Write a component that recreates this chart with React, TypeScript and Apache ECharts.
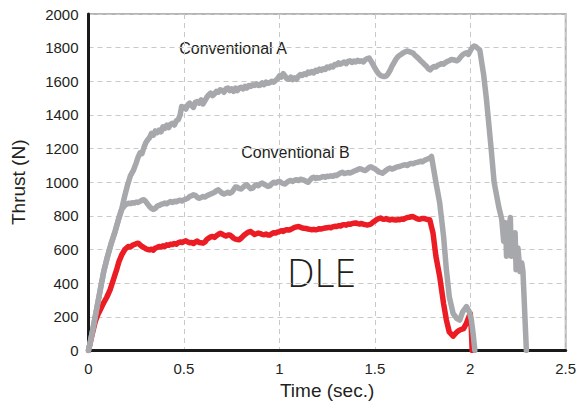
import React, { useEffect, useRef } from "react";
import * as echarts from "echarts";

const xTicks = [0, 0.5, 1, 1.5, 2, 2.5];
const yTicks = [0, 200, 400, 600, 800, 1000, 1200, 1400, 1600, 1800, 2000];

const conventionalA: [number, number][] = [
  [0, 0], [0.02, 110], [0.04, 230], [0.06, 350], [0.08, 470], [0.1, 560], [0.12, 640], [0.14, 710],
  [0.16, 790], [0.174, 840], [0.19, 920], [0.205, 985], [0.22, 1040], [0.235, 1070], [0.25, 1115],
  [0.26, 1150], [0.27, 1175], [0.28, 1170], [0.29, 1205], [0.3, 1235], [0.31, 1252], [0.32, 1265],
  [0.33, 1290], [0.34, 1280], [0.35, 1305], [0.36, 1295], [0.37, 1310], [0.38, 1300], [0.39, 1330],
  [0.4, 1320], [0.41, 1340], [0.42, 1325], [0.43, 1345], [0.44, 1350], [0.45, 1340], [0.46, 1365],
  [0.47, 1372], [0.48, 1400], [0.488, 1450], [0.5, 1445], [0.51, 1435], [0.52, 1460], [0.53, 1470],
  [0.54, 1455], [0.55, 1445], [0.56, 1475], [0.57, 1480], [0.58, 1470], [0.59, 1490], [0.6, 1465],
  [0.61, 1485], [0.62, 1505], [0.63, 1520], [0.64, 1530], [0.65, 1515], [0.66, 1525], [0.67, 1540],
  [0.68, 1535], [0.69, 1550], [0.7, 1545], [0.71, 1535], [0.72, 1555], [0.73, 1560], [0.74, 1545],
  [0.75, 1555], [0.76, 1540], [0.77, 1560], [0.78, 1545], [0.79, 1560], [0.8, 1565], [0.81, 1555],
  [0.82, 1570], [0.83, 1560], [0.84, 1575], [0.85, 1570], [0.86, 1580], [0.87, 1575], [0.88, 1585],
  [0.89, 1575], [0.9, 1578], [0.91, 1590], [0.92, 1580], [0.93, 1595], [0.94, 1588], [0.95, 1592],
  [0.96, 1600], [0.97, 1595], [0.98, 1605], [0.99, 1615], [1.0, 1632], [1.01, 1625], [1.02, 1645],
  [1.03, 1630], [1.04, 1615], [1.05, 1612], [1.06, 1625], [1.07, 1610], [1.08, 1620], [1.09, 1612],
  [1.1, 1630], [1.11, 1640], [1.12, 1635], [1.13, 1645], [1.14, 1640], [1.15, 1655], [1.16, 1650],
  [1.17, 1658], [1.18, 1650], [1.19, 1665], [1.2, 1660], [1.21, 1672], [1.22, 1665], [1.23, 1675],
  [1.24, 1670], [1.25, 1685], [1.26, 1680], [1.27, 1690], [1.28, 1685], [1.29, 1700], [1.3, 1698],
  [1.31, 1710], [1.32, 1702], [1.33, 1708], [1.34, 1715], [1.35, 1705], [1.36, 1718], [1.37, 1722],
  [1.38, 1712], [1.39, 1720], [1.4, 1715], [1.41, 1725], [1.42, 1718], [1.43, 1722], [1.44, 1715],
  [1.45, 1728], [1.46, 1735], [1.47, 1738], [1.48, 1720], [1.49, 1700], [1.5, 1680], [1.51, 1660],
  [1.52, 1645], [1.53, 1635], [1.54, 1630], [1.55, 1628], [1.56, 1632], [1.57, 1645], [1.58, 1665],
  [1.59, 1690], [1.6, 1710], [1.61, 1730], [1.62, 1745], [1.63, 1755], [1.64, 1762], [1.65, 1770],
  [1.66, 1775], [1.67, 1780], [1.68, 1776], [1.69, 1772], [1.7, 1768], [1.71, 1755], [1.72, 1745],
  [1.73, 1735], [1.74, 1722], [1.75, 1712], [1.76, 1700], [1.77, 1690], [1.78, 1675], [1.79, 1668],
  [1.8, 1680], [1.81, 1688], [1.82, 1685], [1.83, 1695], [1.84, 1700], [1.85, 1705], [1.86, 1702],
  [1.87, 1712], [1.88, 1718], [1.89, 1722], [1.9, 1730], [1.91, 1728], [1.92, 1725], [1.93, 1722],
  [1.94, 1730], [1.95, 1745], [1.96, 1758], [1.97, 1765], [1.98, 1770], [1.99, 1760], [2.0, 1782],
  [2.01, 1800], [2.02, 1810], [2.03, 1805], [2.04, 1795], [2.05, 1785], [2.07, 1640], [2.085, 1491],
  [2.11, 1193], [2.125, 1000], [2.15, 850], [2.165, 780], [2.175, 650], [2.185, 760], [2.19, 560],
  [2.2, 680], [2.21, 790], [2.215, 560], [2.225, 620], [2.235, 700], [2.24, 480], [2.25, 610],
  [2.26, 470], [2.27, 520], [2.276, 470], [2.294, 0],
];

const conventionalB: [number, number][] = [
  [0, 0], [0.02, 110], [0.04, 230], [0.06, 350], [0.08, 470], [0.1, 560], [0.12, 640], [0.14, 710],
  [0.16, 790], [0.174, 840], [0.19, 862], [0.2, 870], [0.21, 875], [0.22, 873], [0.23, 878],
  [0.24, 876], [0.25, 882], [0.26, 880], [0.27, 886], [0.28, 893], [0.29, 896], [0.3, 885],
  [0.31, 870], [0.32, 855], [0.33, 845], [0.34, 838], [0.35, 845], [0.36, 858], [0.37, 862],
  [0.38, 868], [0.39, 872], [0.4, 876], [0.41, 872], [0.42, 880], [0.43, 885], [0.44, 880],
  [0.45, 887], [0.46, 884], [0.47, 890], [0.48, 893], [0.49, 888], [0.5, 896], [0.51, 900],
  [0.52, 905], [0.53, 915], [0.54, 920], [0.55, 925], [0.56, 922], [0.57, 910], [0.58, 905],
  [0.59, 910], [0.6, 915], [0.61, 912], [0.62, 920], [0.63, 925], [0.64, 930], [0.65, 935],
  [0.66, 940], [0.67, 950], [0.68, 955], [0.69, 945], [0.7, 935], [0.71, 930], [0.72, 935],
  [0.73, 940], [0.74, 935], [0.75, 940], [0.76, 955], [0.77, 972], [0.78, 970], [0.79, 962],
  [0.8, 960], [0.81, 970], [0.82, 980], [0.83, 985], [0.84, 972], [0.85, 962], [0.86, 965],
  [0.87, 978], [0.88, 985], [0.89, 980], [0.9, 990], [0.91, 995], [0.92, 988], [0.93, 982],
  [0.94, 975], [0.95, 978], [0.96, 990], [0.97, 1000], [0.98, 995], [0.99, 1002], [1.0, 1005],
  [1.01, 998], [1.02, 992], [1.03, 990], [1.04, 1000], [1.05, 1008], [1.06, 1010], [1.07, 1005],
  [1.08, 1012], [1.09, 1015], [1.1, 1010], [1.11, 1018], [1.12, 1015], [1.13, 1012], [1.14, 1005],
  [1.15, 1000], [1.16, 1012], [1.17, 1025], [1.18, 1030], [1.19, 1022], [1.2, 1028], [1.21, 1025],
  [1.22, 1030], [1.23, 1034], [1.24, 1030], [1.25, 1036], [1.26, 1034], [1.27, 1038], [1.28, 1035],
  [1.29, 1042], [1.3, 1040], [1.31, 1048], [1.32, 1055], [1.33, 1060], [1.34, 1052], [1.35, 1054],
  [1.36, 1058], [1.37, 1055], [1.38, 1060], [1.39, 1065], [1.4, 1070], [1.41, 1075], [1.42, 1080],
  [1.43, 1078], [1.44, 1072], [1.45, 1070], [1.46, 1078], [1.47, 1088], [1.48, 1092], [1.49, 1085],
  [1.5, 1080], [1.51, 1072], [1.52, 1062], [1.53, 1058], [1.54, 1054], [1.55, 1062], [1.56, 1072],
  [1.57, 1080], [1.58, 1084], [1.59, 1078], [1.6, 1082], [1.61, 1088], [1.62, 1092], [1.63, 1094],
  [1.64, 1098], [1.65, 1102], [1.66, 1104], [1.67, 1100], [1.68, 1108], [1.69, 1112], [1.7, 1110],
  [1.71, 1115], [1.72, 1118], [1.73, 1120], [1.74, 1125], [1.75, 1122], [1.76, 1130], [1.77, 1135],
  [1.78, 1140], [1.79, 1145], [1.797, 1153], [1.82, 1000], [1.84, 876], [1.86, 680], [1.875, 479],
  [1.89, 320], [1.91, 221], [1.93, 190], [1.945, 181], [1.96, 230], [1.98, 261], [1.995, 230],
  [2.006, 181], [2.015, 100], [2.024, 0],
];

const dle: [number, number][] = [
  [0, 0], [0.02, 100], [0.035, 170], [0.05, 215], [0.065, 250], [0.08, 285], [0.095, 315],
  [0.113, 360], [0.13, 420], [0.147, 479], [0.16, 530], [0.174, 568], [0.19, 600], [0.208, 618],
  [0.22, 615], [0.23, 625], [0.24, 630], [0.25, 635],
  [0.26, 638], [0.27, 628], [0.28, 618], [0.29, 612], [0.3, 605], [0.31, 600], [0.32, 598],
  [0.33, 602], [0.34, 596], [0.35, 608], [0.36, 612], [0.37, 618], [0.38, 615], [0.39, 622],
  [0.4, 618], [0.41, 628], [0.42, 625], [0.43, 632], [0.44, 630], [0.45, 636], [0.46, 632],
  [0.47, 640], [0.48, 645], [0.49, 642], [0.5, 648], [0.51, 652], [0.52, 645], [0.53, 640],
  [0.54, 642], [0.55, 636], [0.56, 645], [0.57, 650], [0.58, 642], [0.59, 640], [0.6, 638],
  [0.61, 645], [0.62, 660], [0.63, 668], [0.64, 675], [0.65, 678], [0.66, 672], [0.67, 682],
  [0.68, 690], [0.69, 697], [0.7, 692], [0.71, 685], [0.72, 680], [0.73, 686], [0.74, 687],
  [0.75, 678], [0.76, 668], [0.77, 662], [0.78, 660], [0.79, 658], [0.8, 668], [0.81, 680],
  [0.82, 690], [0.83, 698], [0.84, 705], [0.85, 707], [0.86, 698], [0.87, 690], [0.88, 694],
  [0.89, 698], [0.9, 695], [0.91, 690], [0.92, 688], [0.93, 692], [0.94, 687], [0.95, 686],
  [0.96, 694], [0.97, 700], [0.98, 698], [0.99, 704], [1.0, 707], [1.01, 712], [1.02, 708],
  [1.03, 715], [1.04, 718], [1.05, 716], [1.06, 720], [1.07, 726], [1.08, 732], [1.09, 735],
  [1.1, 737], [1.11, 733], [1.12, 728], [1.13, 726], [1.14, 725], [1.15, 722], [1.16, 720],
  [1.17, 718], [1.18, 720], [1.19, 717], [1.2, 720], [1.21, 724], [1.22, 722], [1.23, 726],
  [1.24, 728], [1.25, 730], [1.26, 732], [1.27, 730], [1.28, 735], [1.29, 738], [1.3, 737],
  [1.31, 742], [1.32, 740], [1.33, 746], [1.34, 748], [1.35, 745], [1.36, 752], [1.37, 750],
  [1.38, 754], [1.39, 756], [1.4, 758], [1.41, 754], [1.42, 752], [1.43, 755], [1.44, 750],
  [1.45, 748], [1.46, 746], [1.47, 748], [1.48, 752], [1.49, 762], [1.5, 770], [1.51, 778],
  [1.52, 784], [1.53, 787], [1.54, 782], [1.55, 780], [1.56, 784], [1.57, 778], [1.58, 776],
  [1.59, 780], [1.6, 777], [1.61, 775], [1.62, 778], [1.63, 777], [1.64, 782], [1.65, 780],
  [1.66, 786], [1.67, 790], [1.68, 792], [1.69, 795], [1.7, 796], [1.71, 790], [1.72, 784],
  [1.73, 780], [1.74, 782], [1.75, 785], [1.76, 784], [1.77, 780], [1.78, 778], [1.788, 777],
  [1.805, 697], [1.82, 560], [1.84, 439], [1.86, 280], [1.875, 181], [1.89, 110], [1.91, 85],
  [1.93, 110], [1.945, 122], [1.965, 130], [1.98, 162], [2.0, 221], [2.006, 120], [2.01, 0],
];

const seriesNames = ["Conventional A", "Conventional B", "DLE"];

const GRAY = "#a7a8ac";
const RED = "#ec1c24";
const TEXT = "#231f20";
const FONT = "Liberation Sans";

export default function App() {
  const ref = useRef<HTMLDivElement>(null);
  useEffect(() => {
    if (!ref.current) return;
    const chart = echarts.init(ref.current, undefined, { renderer: "svg" });
    const lineSeries = (name: string, data: [number, number][], color: string, z: number) => ({
      name,
      type: "line",
      data,
      showSymbol: false,
      symbol: "none",
      z,
      lineStyle: { color, width: 5.5, join: "round", cap: "round" },
    });
    chart.setOption({
      animation: false,
      textStyle: { fontFamily: FONT },
      grid: {
        left: 88.5,
        right: 10.3,
        top: 14,
        bottom: 54.5,
        show: true,
        borderColor: "#b3b4b6",
        borderWidth: 2,
        backgroundColor: "transparent",
        containLabel: false,
        outerBoundsMode: "none",
      },
      xAxis: {
        type: "value",
        min: xTicks[0],
        max: xTicks[xTicks.length - 1],
        interval: 0.5,
        name: "Time (sec.)",
        nameLocation: "middle",
        nameGap: 30,
        nameTextStyle: { fontSize: 19, color: TEXT, fontFamily: FONT },
        axisLine: { show: true, lineStyle: { color: "#1a1a1a", width: 3 } },
        axisTick: { show: false },
        axisLabel: { fontSize: 15, color: TEXT, margin: 10, fontFamily: FONT, formatter: (v: number) => String(v) },
        splitLine: { show: true, lineStyle: { color: "#c8c9cb", type: [5, 4], width: 1 } },
      },
      yAxis: {
        type: "value",
        min: yTicks[0],
        max: yTicks[yTicks.length - 1],
        interval: 200,
        name: "Thrust (N)",
        nameLocation: "middle",
        nameGap: 61,
        nameTextStyle: { fontSize: 19, color: TEXT, fontFamily: FONT },
        axisLine: { show: true, lineStyle: { color: "#1a1a1a", width: 3 } },
        axisTick: { show: false },
        axisLabel: { fontSize: 15, color: TEXT, margin: 10, fontFamily: FONT, formatter: (v: number) => String(v) },
        splitLine: { show: true, lineStyle: { color: "#c8c9cb", type: [5, 4], width: 1 } },
      },
      series: [
        lineSeries(seriesNames[2], dle, RED, 2),
        lineSeries(seriesNames[1], conventionalB, GRAY, 3),
        lineSeries(seriesNames[0], conventionalA, GRAY, 4),
      ],
      graphic: [
        {
          type: "text",
          x: 233,
          y: 48,
          style: { text: "Conventional A", fontSize: 16, fontFamily: FONT, fill: TEXT, align: "center", verticalAlign: "middle" },
        },
        {
          type: "text",
          x: 295.5,
          y: 152,
          style: { text: "Conventional B", fontSize: 16, fontFamily: FONT, fill: TEXT, align: "center", verticalAlign: "middle" },
        },
        {
          type: "text",
          x: 321.5,
          y: 271,
          style: { text: "DLE", fontSize: 39, fontWeight: 300, fontFamily: "Open Sans", fill: TEXT, align: "center", verticalAlign: "middle" },
        },
      ],
    });
    return () => chart.dispose();
  }, []);
  return <div ref={ref} style={{ width: 576, height: 405, position: "absolute", left: 0, top: 0 }} />;
}
